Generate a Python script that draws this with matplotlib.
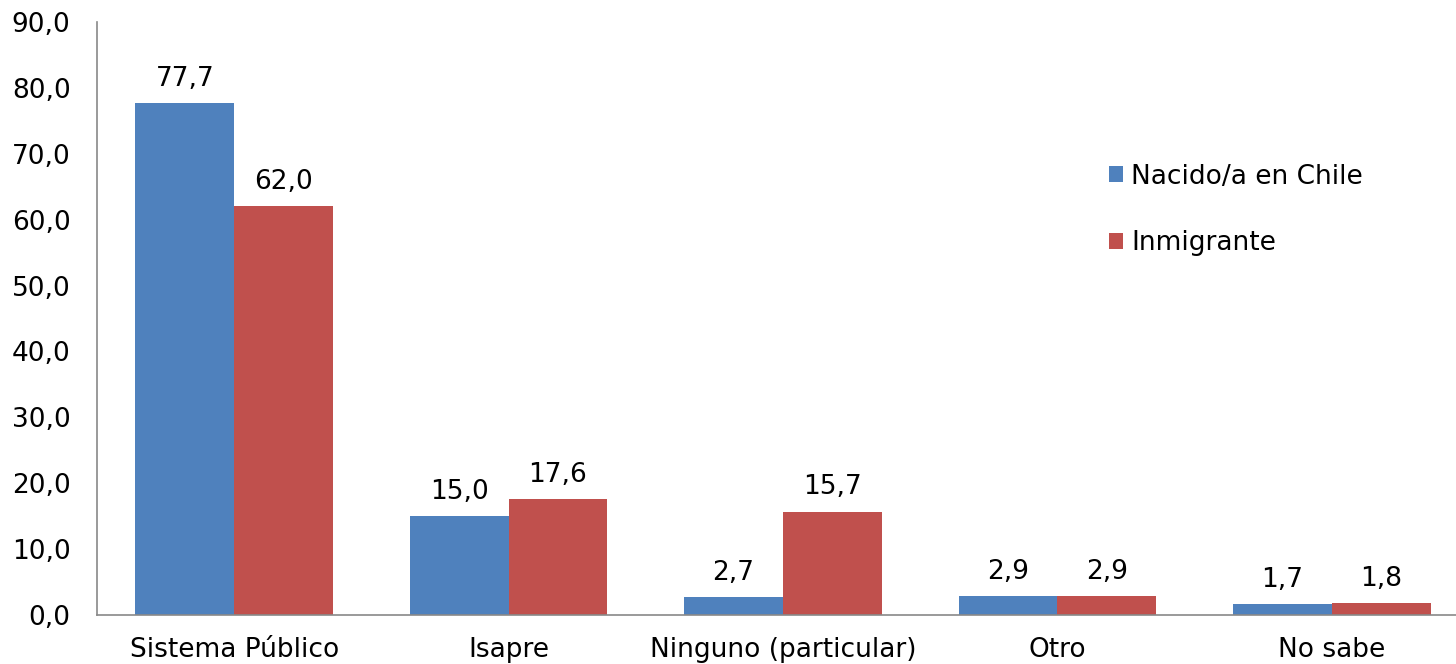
import numpy as np
import matplotlib.pyplot as plt

# Data
categorias = ['Sistema Público', 'Isapre', 'Ninguno (particular)', 'Otro', 'No sabe']
nacido_chile = [77.7, 15.0, 2.7, 2.9, 1.7]
inmigrante = [62.0, 17.6, 15.7, 2.9, 1.8]
yticks = np.arange(0, 91, 10)

plt.rcParams['font.family'] = ['DejaVu Sans']
fs = 19

fig = plt.figure(figsize=(14.56, 6.64), dpi=100)
ax = fig.add_axes([97 / 1456, 49 / 664, 1372 / 1456, 593 / 664])

x = np.arange(len(categorias))
w = 0.36
b1 = ax.bar(x - w / 2, nacido_chile, w, color='#4f81bd', label='Nacido/a en Chile')
b2 = ax.bar(x + w / 2, inmigrante, w, color='#c0504d', label='Inmigrante')

for bars in (b1, b2):
    for r in bars:
        h = r.get_height()
        ax.annotate(f'{h:.1f}'.replace('.', ','), (r.get_x() + r.get_width() / 2, h),
                    xytext=(0, 8), textcoords='offset points',
                    ha='center', va='bottom', fontsize=fs)

ax.set_xlim(-0.5, len(categorias) - 0.5)
ax.set_ylim(0, 90)
ax.set_yticks(yticks)
ax.set_yticklabels([f'{v:.1f}'.replace('.', ',') for v in yticks], fontsize=fs)
ax.set_xticks(x)
ax.set_xticklabels(categorias, fontsize=fs)
ax.tick_params(axis='y', length=0, pad=19)
ax.tick_params(axis='x', length=0, pad=16)

for s in ('top', 'right'):
    ax.spines[s].set_visible(False)
for s in ('left', 'bottom'):
    ax.spines[s].set_color('#898989')
    ax.spines[s].set_linewidth(1.2)

ax.legend(loc='center left', bbox_to_anchor=(0.72, 0.683), frameon=False, fontsize=fs,
          handlelength=0.55, handleheight=0.55, handletextpad=0.3, labelspacing=1.55)

fig.savefig('out.png', dpi=100)
